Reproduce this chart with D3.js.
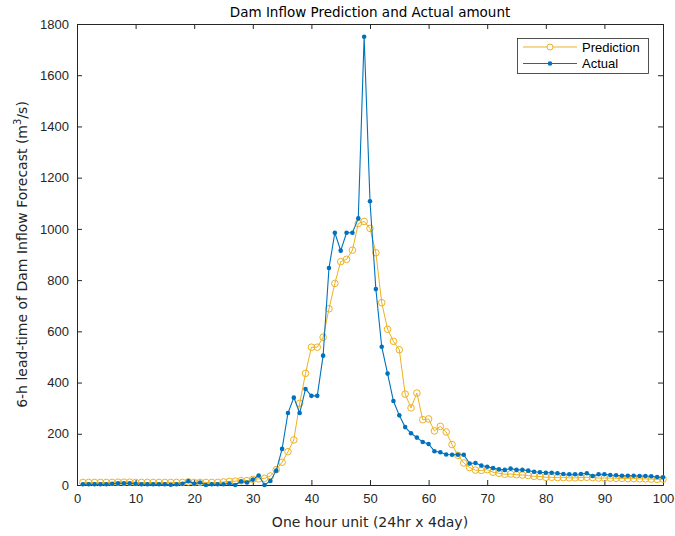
<!DOCTYPE html>
<html>
<head>
<meta charset="utf-8">
<script src="https://cdn.jsdelivr.net/npm/d3@7"></script>
<style>
  body { margin: 0; background: #fff; }
  text { font-family: "Liberation Sans", Arial, sans-serif; }
  .lbl { font-family: "DejaVu Sans", sans-serif; }
</style>
</head>
<body>
<svg id="chart" width="675" height="536"></svg>
<script>
// Hourly units 1..100 (24 hr x 4 days)
const hours = d3.range(1, 101);

// 6-h lead-time predicted inflow (m^3/s)
const prediction = [
  10, 10, 10, 10, 10, 10, 11, 11, 11, 10,
  10, 10, 10, 10, 10, 10, 10, 10, 12, 10,
  10, 10, 10, 10, 12, 14, 15, 17, 17, 22,
  24, 26, 35, 60, 89, 130, 176, 319, 436, 538,
  538, 577, 688, 787, 872, 881, 917, 1021, 1029, 1002,
  907, 712, 608, 561, 528, 355, 301, 359, 255, 258,
  211, 229, 207, 158, 116, 86, 68, 58, 57, 60,
  50, 46, 42, 43, 40, 39, 37, 34, 33, 30,
  30, 29, 29, 28, 28, 29, 30, 29, 27, 27,
  27, 26, 26, 25, 25, 24, 24, 23, 22, 23
];

// Observed inflow (m^3/s)
const actual = [
  3, 3, 3, 3, 3, 5, 7, 7, 7, 5,
  3, 3, 3, 3, 3, 1, 3, 5, 15, 5,
  10, 0, 3, 3, 3, 6, 0, 14, 10, 21,
  37, 0, 16, 56, 141, 281, 341, 281, 375, 348,
  348, 505, 847, 985, 915, 985, 985, 1041, 1750, 1108,
  765, 540, 435, 328, 272, 226, 202, 185, 168, 160,
  132, 128, 119, 118, 118, 118, 84, 86, 76, 71,
  66, 61, 59, 64, 59, 59, 56, 52, 50, 48,
  48, 46, 43, 42, 42, 43, 46, 35, 42, 42,
  39, 38, 36, 36, 36, 35, 35, 34, 31, 30
];

const xTicks = d3.range(0, 101, 10);
const yTicks = d3.range(0, 1801, 200);

const colPred = "#EDB120";
const colAct = "#0072BD";
const axisCol = "#262626";

const svg = d3.select("#chart");
const m = { left: 77, right: 663, top: 24, bottom: 485 };

const x = d3.scaleLinear().domain([0, 100]).range([m.left, m.right]);
const y = d3.scaleLinear().domain([0, 1800]).range([m.bottom, m.top]);

// axes with inward ticks on all four sides
const gx = svg.append("g").attr("transform", `translate(0,${m.bottom})`)
  .call(d3.axisBottom(x).tickValues(xTicks).tickFormat(d3.format("d"))
    .tickSizeInner(-5).tickSizeOuter(0).tickPadding(9));
const gy = svg.append("g").attr("transform", `translate(${m.left},0)`)
  .call(d3.axisLeft(y).tickValues(yTicks).tickFormat(d3.format("d"))
    .tickSizeInner(-5).tickSizeOuter(0).tickPadding(8));
const gxt = svg.append("g").attr("transform", `translate(0,${m.top})`)
  .call(d3.axisTop(x).tickValues(xTicks).tickSizeInner(-5).tickSizeOuter(0).tickFormat(""));
const gyr = svg.append("g").attr("transform", `translate(${m.right},0)`)
  .call(d3.axisRight(y).tickValues(yTicks).tickSizeInner(-5).tickSizeOuter(0).tickFormat(""));

[gx, gy, gxt, gyr].forEach(g => {
  g.selectAll("path").attr("stroke", axisCol).attr("stroke-width", 1);
  g.selectAll("line").attr("stroke", axisCol).attr("stroke-width", 1);
  g.selectAll("text").attr("fill", axisCol).attr("font-size", 13);
});

// clip region for series
svg.append("clipPath").attr("id", "plotclip")
  .append("rect").attr("x", m.left - 4).attr("y", m.top - 4)
  .attr("width", m.right - m.left + 8).attr("height", m.bottom - m.top + 8);

const plot = svg.append("g").attr("clip-path", "url(#plotclip)");

const predData = hours.map((h, i) => ({ h, v: prediction[i] }));
const actData = hours.map((h, i) => ({ h, v: actual[i] }));
const line = d3.line().x(d => x(d.h)).y(d => y(d.v));

plot.append("path").datum(predData).attr("d", line)
  .attr("fill", "none").attr("stroke", colPred).attr("stroke-width", 1);
plot.selectAll("circle.pred").data(predData).join("circle").attr("class", "pred")
  .attr("cx", d => x(d.h)).attr("cy", d => y(d.v)).attr("r", 3.3)
  .attr("fill", "none").attr("stroke", colPred).attr("stroke-width", 1);

plot.append("path").datum(actData).attr("d", line)
  .attr("fill", "none").attr("stroke", colAct).attr("stroke-width", 1.1);
plot.selectAll("circle.act").data(actData).join("circle").attr("class", "act")
  .attr("cx", d => x(d.h)).attr("cy", d => y(d.v)).attr("r", 2.3)
  .attr("fill", colAct).attr("stroke", "none");

// title and axis labels
svg.append("text").attr("class", "lbl").attr("x", (m.left + m.right) / 2).attr("y", 17)
  .attr("text-anchor", "middle").attr("font-size", 13.5).attr("fill", "#000")
  .text("Dam Inflow Prediction and Actual amount");

svg.append("text").attr("class", "lbl").attr("x", (m.left + m.right) / 2).attr("y", 527)
  .attr("text-anchor", "middle").attr("font-size", 14).attr("fill", axisCol)
  .text("One hour unit (24hr x 4day)");

const yl = svg.append("text").attr("class", "lbl")
  .attr("transform", `translate(27,${(m.top + m.bottom) / 2}) rotate(-90)`)
  .attr("text-anchor", "middle").attr("font-size", 14).attr("fill", axisCol);
yl.append("tspan").text("6-h lead-time of Dam Inflow Forecast (m");
yl.append("tspan").attr("font-size", 10).attr("dy", -6).text("3");
yl.append("tspan").attr("dy", 6).text("/s)");

// legend
const lg = svg.append("g");
lg.append("rect").attr("x", 517.5).attr("y", 38.5).attr("width", 131).attr("height", 35)
  .attr("fill", "#fff").attr("stroke", axisCol).attr("stroke-width", 0.8);
const items = [
  { name: "Prediction", col: colPred, open: true, yy: 47 },
  { name: "Actual", col: colAct, open: false, yy: 63.5 }
];
items.forEach(it => {
  lg.append("line").attr("x1", 523).attr("x2", 577).attr("y1", it.yy).attr("y2", it.yy)
    .attr("stroke", it.col).attr("stroke-width", 1);
  lg.append("circle").attr("cx", 550).attr("cy", it.yy).attr("r", it.open ? 3 : 2.3)
    .attr("fill", it.open ? "#fff" : it.col).attr("stroke", it.open ? it.col : "none");
  lg.append("text").attr("x", 582).attr("y", it.yy + 4.5).attr("font-size", 13)
    .attr("fill", "#000").text(it.name);
});
</script>
</body>
</html>
